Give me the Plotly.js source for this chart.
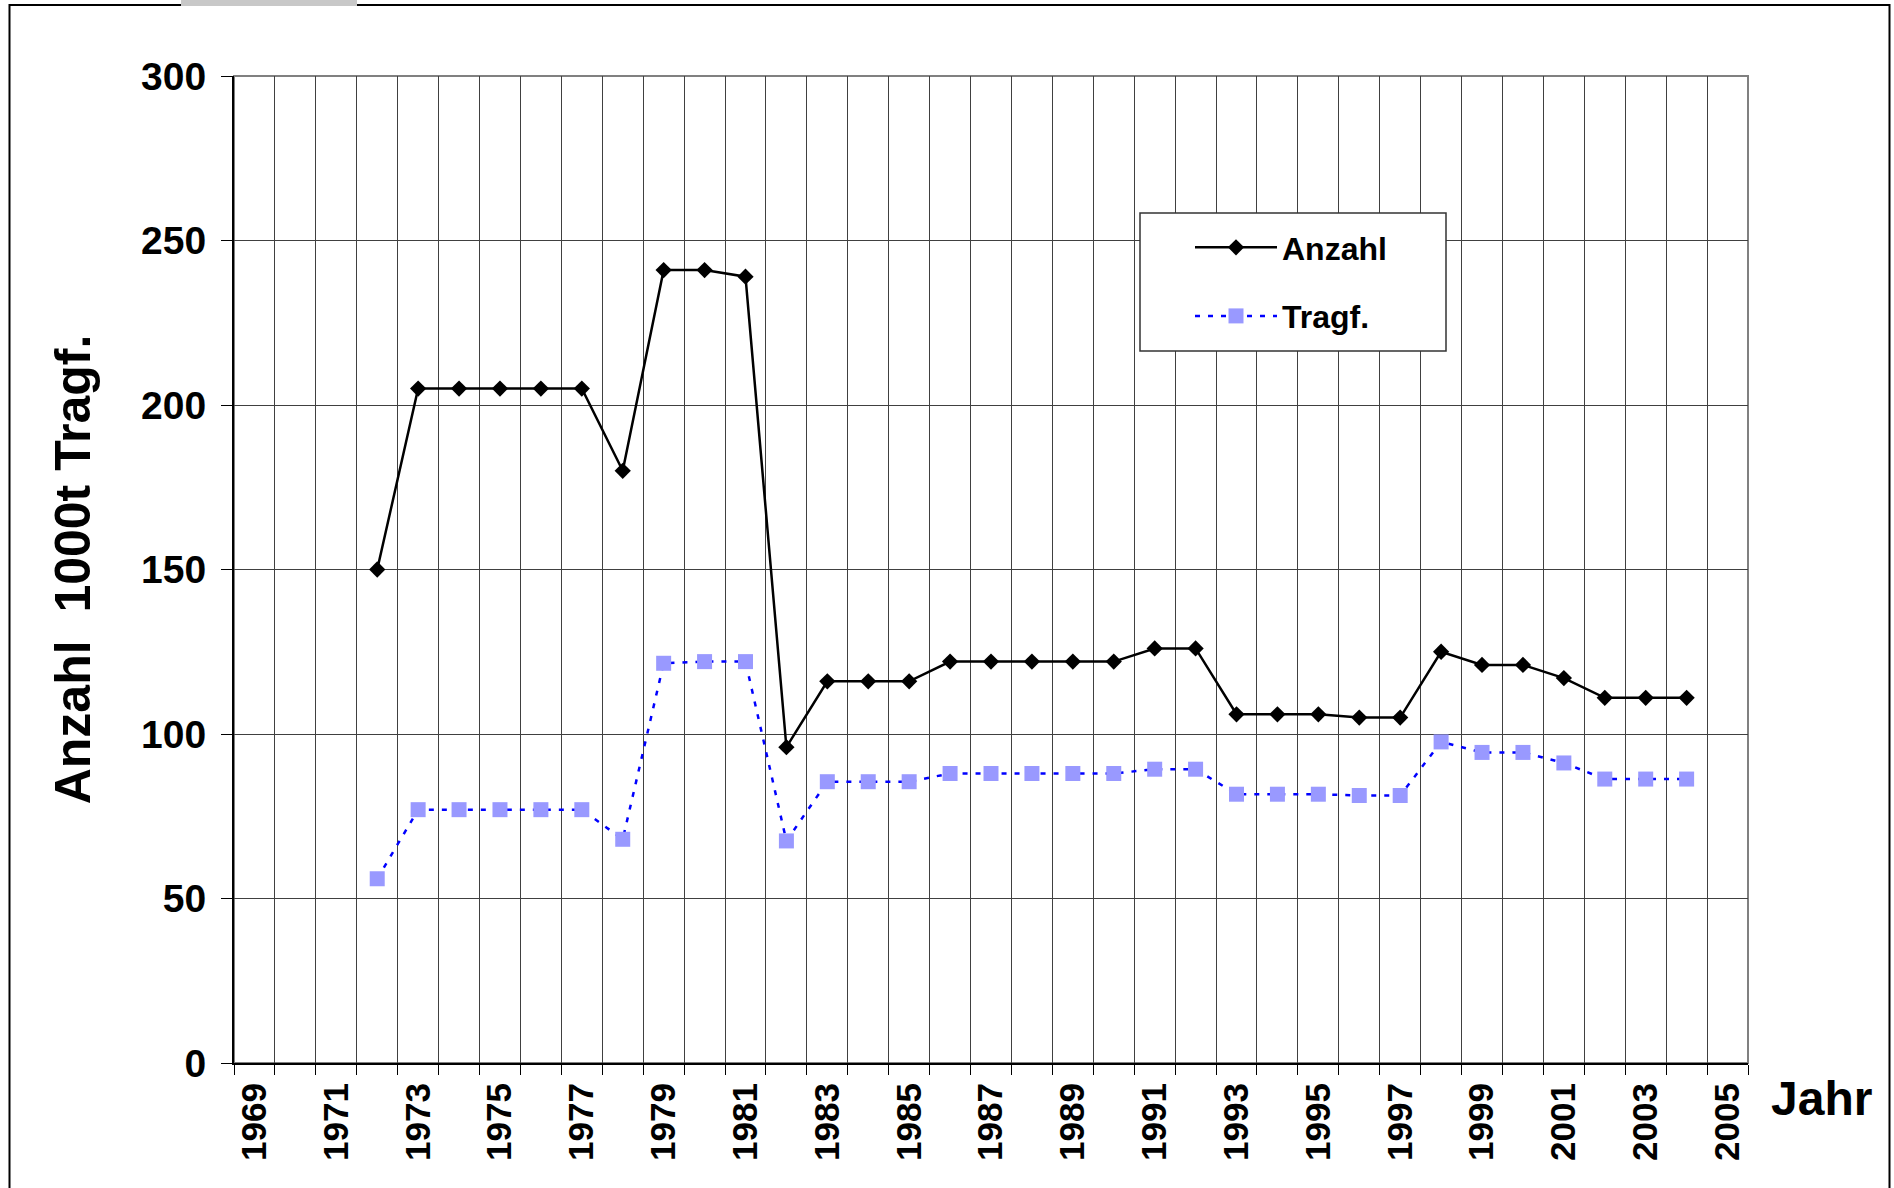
<!DOCTYPE html>
<html>
<head>
<meta charset="utf-8">
<script src="https://cdn.plot.ly/plotly-3.0.1.min.js"></script>
<style>
  html, body { margin: 0; padding: 0; background: #ffffff; }
  #chart { width: 1894px; height: 1188px; }
</style>
</head>
<body>
<div id="chart"></div>
<script>
// ---- data ----
const years = [1972, 1973, 1974, 1975, 1976, 1977, 1978, 1979, 1980, 1981, 1982,
  1983, 1984, 1985, 1986, 1987, 1988, 1989, 1990, 1991, 1992, 1993, 1994, 1995,
  1996, 1997, 1998, 1999, 2000, 2001, 2002, 2003, 2004];
const anzahl = [150, 205, 205, 205, 205, 205, 180, 241, 241, 239, 96,
  116, 116, 116, 122, 122, 122, 122, 122, 126, 126, 106, 106, 106,
  105, 105, 125, 121, 121, 117, 111, 111, 111];
const tragf = [56, 77, 77, 77, 77, 77, 68, 121.5, 122, 122, 67.5,
  85.5, 85.5, 85.5, 88, 88, 88, 88, 88, 89.3, 89.3, 81.7, 81.7, 81.7,
  81.3, 81.3, 97.6, 94.4, 94.4, 91.2, 86.3, 86.3, 86.3];
const xTickYears = [1969, 1971, 1973, 1975, 1977, 1979, 1981, 1983, 1985, 1987,
  1989, 1991, 1993, 1995, 1997, 1999, 2001, 2003, 2005];
const yTicks = [0, 50, 100, 150, 200, 250, 300];
const seriesNames = ['Anzahl', 'Tragf.'];
const yTitle = 'Anzahl  1000t Tragf.';
const xTitle = 'Jahr';

// ---- layout geometry (pixels) ----
const W = 1894, H = 1188;
const L = 234, R = 1748, T = 76, B = 1063;
const pw = R - L, ph = B - T;
const px = x => (x - L) / pw;
const py = y => (B - y) / ph;

const FONT = 'Liberation Sans, Arial, Helvetica, sans-serif';

const traces = [
  {
    x: years, y: anzahl, name: seriesNames[0], type: 'scatter', mode: 'lines+markers',
    line: { color: '#000000', width: 2.5 },
    marker: { symbol: 'diamond', size: 12.5, color: '#000000' },
    legendgroup: 'a'
  },
  {
    x: years, y: tragf, name: seriesNames[1], type: 'scatter', mode: 'lines+markers',
    line: { color: '#0000ff', width: 2.5, dash: '5px,8px' },
    marker: { symbol: 'square', size: 15, color: '#9999ff' },
    legendgroup: 'b'
  }
];

const layout = {
  width: W, height: H,
  margin: { l: L, r: W - R, t: T, b: H - B, pad: 0 },
  paper_bgcolor: '#ffffff', plot_bgcolor: '#ffffff',
  font: { family: FONT, color: '#000000', weight: 'bold' },
  showlegend: true,
  legend: {
    x: px(1190), y: py(220), xanchor: 'left', yanchor: 'top',
    bgcolor: 'rgba(0,0,0,0)', borderwidth: 0,
    font: { family: FONT, size: 32, weight: 'bold', color: '#000000' },
    tracegroupgap: 24, itemwidth: 82,
    traceorder: 'grouped'
  },
  xaxis: {
    type: 'linear', range: [1968.5, 2005.5], fixedrange: true,
    tickmode: 'array', tickvals: xTickYears, ticktext: xTickYears.map(String),
    tickangle: -90, ticks: '', showgrid: false,
    tickfont: { family: FONT, size: 35, weight: 'bold', color: '#000000' },
    ticklabelstandoff: 4,
    showline: true, linecolor: '#000000', linewidth: 2, zeroline: false,
    minor: {
      tick0: 1968.5, dtick: 1, showgrid: true, gridcolor: '#404040', gridwidth: 1,
      ticks: 'outside', ticklen: 10, tickcolor: '#000000', tickwidth: 1
    }
  },
  yaxis: {
    range: [0, 300], fixedrange: true,
    tickmode: 'array', tickvals: yTicks, ticktext: yTicks.map(String),
    ticks: 'outside', ticklen: 11, tickcolor: '#000000', tickwidth: 1,
    ticklabelstandoff: 7,
    showgrid: true, gridcolor: '#404040', gridwidth: 1,
    tickfont: { family: FONT, size: 39, weight: 'bold', color: '#000000' },
    showline: true, linecolor: '#000000', linewidth: 2, zeroline: false,
    title: { text: yTitle, font: { family: FONT, size: 50, weight: 'bold', color: '#000000' }, standoff: 35 }
  },
  annotations: [
    {
      text: xTitle, xref: 'paper', yref: 'paper', x: px(1821), y: py(1098),
      xanchor: 'center', yanchor: 'middle', showarrow: false,
      font: { family: FONT, size: 48, weight: 'bold', color: '#000000' }
    }
  ],
  shapes: [
    // outer chart frame
    { type: 'rect', xref: 'paper', yref: 'paper', x0: px(9.5), x1: px(1889.5), y0: py(1200), y1: py(5),
      line: { color: '#000000', width: 2 }, fillcolor: 'rgba(0,0,0,0)', layer: 'below' },
    // grey tab at the top edge
    { type: 'rect', xref: 'paper', yref: 'paper', x0: px(181), x1: px(357), y0: py(6), y1: py(-2),
      line: { width: 0 }, fillcolor: '#c8c8c8', layer: 'above' },
    // plot-area border (top and right grey)
    { type: 'rect', xref: 'paper', yref: 'paper', x0: 0, x1: 1, y0: 0, y1: 1,
      line: { color: '#808080', width: 2 }, fillcolor: 'rgba(0,0,0,0)', layer: 'below' },
    // legend frame
    { type: 'rect', xref: 'paper', yref: 'paper', x0: px(1140), x1: px(1446), y0: py(351), y1: py(213),
      line: { color: '#333333', width: 1.5 }, fillcolor: '#ffffff', layer: 'above' }
  ]
};

Plotly.newPlot('chart', traces, layout, { staticPlot: true, displayModeBar: false });
</script>
</body>
</html>
